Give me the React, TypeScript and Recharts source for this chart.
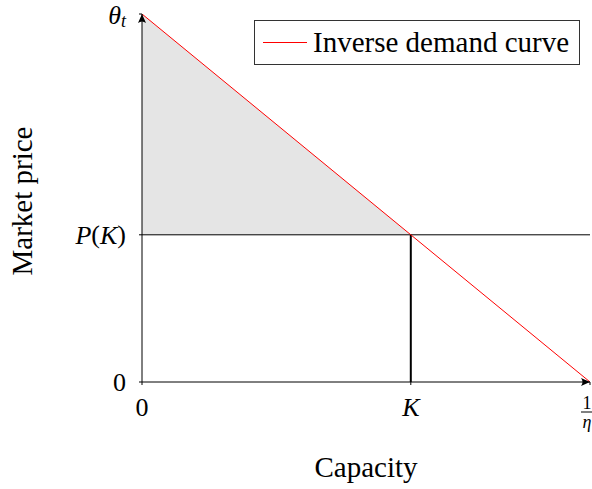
import React from 'react';
import { ComposedChart, Area, Line, XAxis, YAxis, ReferenceLine, ReferenceDot } from 'recharts';

// Linear inverse demand: price falls from theta_t at zero capacity to 0 at 1/eta
const capacity = [0, 0.6, 1];
const price = [1, 0.4, 0];
// Consumer surplus region above P(K), only up to K
const surplus = [1, 0.4, null];

const xTicks = [0, 0.6, 1];
const xTickLabels = ['0', 'K', '1/η'];
const yTicks = [0, 0.4, 1];
const yTickLabels = ['0', 'P(K)', 'θt'];

const data = capacity.map((c, i) => ({ capacity: c, price: price[i], surplus: surplus[i] }));
const K = capacity[1];
const priceAtK = price[1];

const FONT = '"Liberation Serif", "DejaVu Serif", serif';
const TICK_SIZE = 26;
const LABEL_SIZE = 29;

const XTick = (props: any) => {
  const { x, y, payload } = props;
  const label = xTickLabels[xTicks.indexOf(payload.value)];
  if (label === '1/η') {
    // stacked fraction 1 over eta
    return (
      <g fontFamily={FONT} fill="#000">
        <text x={x - 1} y={y + 16} fontSize={18} textAnchor="middle" dominantBaseline="central">1</text>
        <line x1={x - 7} x2={x + 5} y1={y + 25} y2={y + 25} stroke="#000" strokeWidth={1} />
        <text x={x - 1} y={y + 35} fontSize={18} fontStyle="italic" textAnchor="middle" dominantBaseline="central">η</text>
      </g>
    );
  }
  return (
    <text x={x} y={y + 20} fontFamily={FONT} fontSize={TICK_SIZE} fontStyle={label === 'K' ? 'italic' : 'normal'}
      textAnchor="middle" dominantBaseline="central" fill="#000">
      {label}
    </text>
  );
};

const YTick = (props: any) => {
  const { y, payload } = props;
  const label = yTickLabels[yTicks.indexOf(payload.value)];
  const x = 126;
  if (label === 'P(K)') {
    return (
      <text x={x} y={y} fontFamily={FONT} fontSize={TICK_SIZE} textAnchor="end" dominantBaseline="central" fill="#000">
        <tspan fontStyle="italic">P</tspan>(<tspan fontStyle="italic">K</tspan>)
      </text>
    );
  }
  if (label === 'θt') {
    return (
      <text x={x} y={y + 1} fontFamily={FONT} fontSize={TICK_SIZE} textAnchor="end" dominantBaseline="central" fill="#000">
        <tspan fontStyle="italic">θ</tspan>
        <tspan fontStyle="italic" fontSize={18} dy={6}>t</tspan>
      </text>
    );
  }
  return (
    <text x={x} y={y} fontFamily={FONT} fontSize={TICK_SIZE} textAnchor="end" dominantBaseline="central" fill="#000">
      {label}
    </text>
  );
};

const ArrowRight = (props: any) => {
  const { cx, cy } = props;
  return <path d={`M${cx},${cy} L${cx - 9},${cy - 4} Q${cx - 6},${cy} ${cx - 9},${cy + 4} Z`} fill="#000" />;
};

const ArrowUp = (props: any) => {
  const { cx, cy } = props;
  return <path d={`M${cx},${cy} L${cx - 4},${cy + 9} Q${cx},${cy + 6} ${cx + 4},${cy + 9} Z`} fill="#000" />;
};

const XLabel = (props: any) => {
  const { viewBox } = props;
  return (
    <text x={viewBox.x + viewBox.width / 2} y={477} fontFamily={FONT} fontSize={LABEL_SIZE} textAnchor="middle" fill="#000">
      Capacity
    </text>
  );
};

const YLabel = (props: any) => {
  const { viewBox } = props;
  const cy = viewBox.y + viewBox.height / 2 + 3;
  return (
    <text x={32} y={cy} transform={`rotate(-90 32 ${cy})`} fontFamily={FONT} fontSize={LABEL_SIZE} textAnchor="middle" fill="#000">
      Market price
    </text>
  );
};

export default function App() {
  return (
    <div style={{ position: 'absolute', left: 0, top: 0, width: 592, height: 489, background: '#fff' }}>
      <ComposedChart width={592} height={489} data={data} margin={{ top: 14, right: 2, left: 102, bottom: 67 }}>
        <XAxis
          type="number"
          dataKey="capacity"
          domain={[0, 1]}
          ticks={xTicks}
          tick={XTick}
          tickSize={3}
          tickLine={{ stroke: '#000' }}
          axisLine={{ stroke: '#000' }}
          height={40}
          label={<XLabel />}
          allowDataOverflow
        />
        <YAxis
          type="number"
          domain={[0, 1]}
          ticks={yTicks}
          tick={YTick}
          tickSize={3}
          tickLine={{ stroke: '#000' }}
          axisLine={{ stroke: '#000' }}
          width={40}
          label={<YLabel />}
          allowDataOverflow
        />
        <Area
          type="linear"
          dataKey="surplus"
          baseValue={priceAtK}
          fill="#e5e5e5"
          fillOpacity={1}
          stroke="none"
          isAnimationActive={false}
        />
        <ReferenceLine y={priceAtK} stroke="#000" strokeWidth={1} ifOverflow="visible" />
        <ReferenceLine
          segment={[{ x: K, y: 0 }, { x: K, y: priceAtK }]}
          stroke="#000"
          strokeWidth={2}
        />
        <Line
          type="linear"
          dataKey="price"
          stroke="#ff0000"
          strokeWidth={1}
          dot={false}
          isAnimationActive={false}
        />
        <ReferenceDot x={1} y={0} r={0} shape={ArrowRight} ifOverflow="visible" />
        <ReferenceDot x={0} y={1} r={0} shape={ArrowUp} ifOverflow="visible" />
      </ComposedChart>
      <div
        style={{
          position: 'absolute',
          left: 254,
          top: 20,
          width: 326,
          height: 45,
          boxSizing: 'border-box',
          border: '1px solid #333',
          background: '#fff',
          display: 'flex',
          alignItems: 'center',
          fontFamily: FONT,
          fontSize: LABEL_SIZE,
        }}
      >
        <div style={{ width: 44, height: 0, borderTop: '1px solid #ff0000', marginLeft: 8, marginRight: 6 }} />
        <span>Inverse demand curve</span>
      </div>
    </div>
  );
}
